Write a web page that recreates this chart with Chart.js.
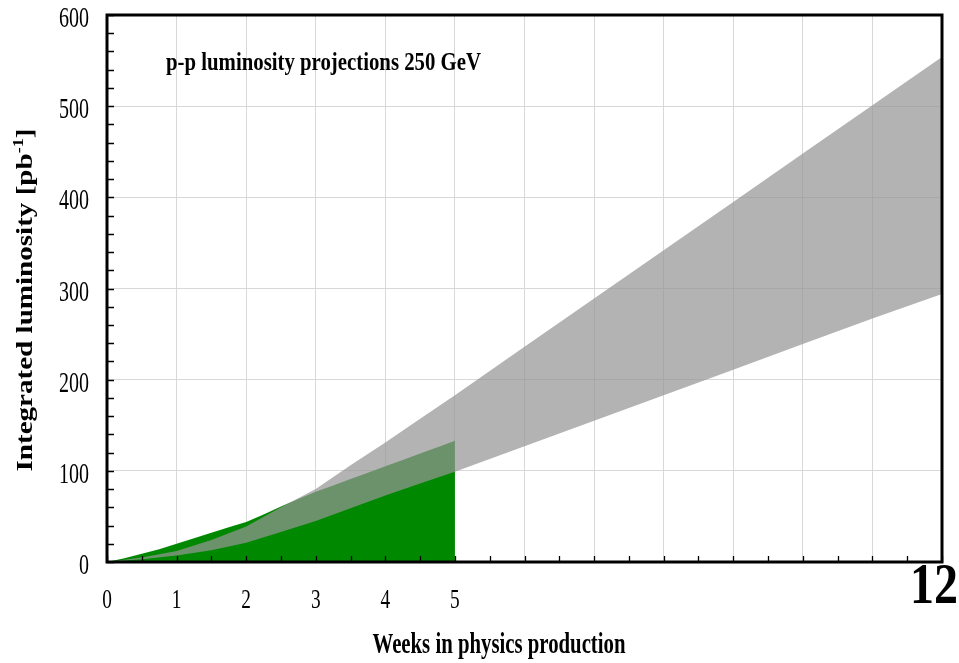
<!DOCTYPE html>
<html>
<head>
<meta charset="utf-8">
<title>p-p luminosity projections 250 GeV</title>
<script src="https://cdn.jsdelivr.net/npm/chart.js@4.4.1/dist/chart.umd.min.js"></script>
<style>
  html, body { margin: 0; padding: 0; background: #ffffff; }
  canvas { display: block; }
</style>
</head>
<body>
<canvas id="lumi" width="959" height="663"></canvas>
<script>
// Projection band (weeks, lower and upper expectation in pb^-1)
const bandWeeks = [0, 0.5, 1, 1.5, 2, 2.5, 3, 3.5, 4, 4.5, 5, 6, 7, 8, 9, 10, 11, 12];
const bandUpper = [0, 5, 12, 24, 39, 60, 80, 106, 131, 157, 183, 236, 289, 342, 395, 448, 501, 554];
const bandLower = [0, 3, 7, 13, 21, 33, 45, 59, 73, 86, 99, 127, 155, 183, 211, 239, 267, 294];

// Delivered integrated luminosity so far
const deliveredWeeks = [0, 0.25, 0.5, 0.75, 1, 1.25, 1.5, 1.75, 2, 2.25, 2.5, 2.75, 3, 3.25, 3.5, 3.75, 4, 4.25, 4.5, 4.75, 5];
const delivered = [0, 4, 9, 14, 20, 26, 32, 38, 44, 52, 61, 69, 77, 84, 91, 98, 105, 112, 119, 126, 133];

// Axis labels
const yTickLabels = [0, 100, 200, 300, 400, 500, 600];
const xTickLabels = [0, 1, 2, 3, 4, 5];
const xEndLabel = 12;
const titleText = 'p-p luminosity projections 250 GeV';
const xTitleText = 'Weeks in physics production';
const yTitleParts = ['Integrated luminosity [pb', '-1', ']'];

const SERIF = '"Liberation Serif", "Times New Roman", serif';

const toPoints = (xs, ys) => xs.map((x, i) => ({ x: x, y: ys[i] }));

// Draw text squeezed horizontally (sx) or fitted to a given width
function drawText(ctx, text, x, y, font, align, sx, width) {
  ctx.save();
  ctx.font = font;
  const w = ctx.measureText(text).width;
  const s = width ? width / w : sx;
  ctx.translate(x, y);
  ctx.scale(s, 1);
  ctx.textAlign = align;
  ctx.textBaseline = 'alphabetic';
  ctx.fillStyle = '#000000';
  ctx.fillText(text, 0, 0);
  ctx.restore();
}

const framePlugin = {
  id: 'frameAndLabels',
  afterDatasetsDraw(chart) {
    const ctx = chart.ctx;
    const a = chart.chartArea;
    const xs = chart.scales.x;
    const ys = chart.scales.y;
    ctx.save();
    ctx.strokeStyle = '#000000';
    ctx.lineWidth = 1.3;
    ctx.beginPath();
    // minor ticks on the left axis, every 20 pb^-1
    for (let v = ys.min; v <= ys.max; v += 20) {
      const py = Math.round(ys.getPixelForValue(v)) + 0.5;
      ctx.moveTo(a.left, py);
      ctx.lineTo(a.left + 7, py);
    }
    // minor ticks on the bottom axis, every half week
    for (let v = xs.min; v <= xs.max; v += 0.5) {
      const px = Math.round(xs.getPixelForValue(v)) + 0.5;
      ctx.moveTo(px, a.bottom);
      ctx.lineTo(px, a.bottom - 6);
    }
    ctx.stroke();
    // frame
    ctx.lineWidth = 3;
    ctx.strokeRect(a.left, a.top, a.right - a.left, a.bottom - a.top);
    ctx.restore();
  },
  afterDraw(chart) {
    const ctx = chart.ctx;
    const xs = chart.scales.x;
    const ys = chart.scales.y;

    // y tick labels
    yTickLabels.forEach(v => {
      drawText(ctx, String(v), 89, ys.getPixelForValue(v) + 12, '29px ' + SERIF, 'right', 0.69);
    });
    // x tick labels
    xTickLabels.forEach(v => {
      drawText(ctx, String(v), xs.getPixelForValue(v), 608, '28px ' + SERIF, 'center', 0.69);
    });
    // end-of-axis label
    drawText(ctx, String(xEndLabel), 958, 603, 'bold 56px ' + SERIF, 'right', null, 48);

    // in-plot title
    drawText(ctx, titleText, 166, 70, 'bold 25px ' + SERIF, 'left', null, 315);

    // x axis title
    drawText(ctx, xTitleText, 499, 653, 'bold 30px ' + SERIF, 'center', null, 253);

    // y axis title (rotated, with superscript)
    ctx.save();
    const mainFont = 'bold 24px ' + SERIF;
    const supFont = 'bold 15px ' + SERIF;
    ctx.font = mainFont;
    const w0 = ctx.measureText(yTitleParts[0]).width;
    const w2 = ctx.measureText(yTitleParts[2]).width;
    ctx.font = supFont;
    const w1 = ctx.measureText(yTitleParts[1]).width;
    const total = w0 + w1 + w2;
    const s = 343 / total;
    ctx.translate(32, 300);
    ctx.rotate(-Math.PI / 2);
    ctx.scale(s, 1);
    ctx.fillStyle = '#000000';
    ctx.textBaseline = 'alphabetic';
    ctx.textAlign = 'left';
    let cx = -total / 2;
    ctx.font = mainFont;
    ctx.fillText(yTitleParts[0], cx, 0);
    cx += w0;
    ctx.font = supFont;
    ctx.fillText(yTitleParts[1], cx, -9);
    cx += w1;
    ctx.font = mainFont;
    ctx.fillText(yTitleParts[2], cx, 0);
    ctx.restore();
  }
};

new Chart(document.getElementById('lumi'), {
  type: 'line',
  data: {
    datasets: [
      {
        label: 'upper',
        data: toPoints(bandWeeks, bandUpper),
        fill: '+1',
        backgroundColor: 'rgba(149,149,149,0.72)',
        borderColor: 'rgba(0,0,0,0)',
        borderWidth: 0,
        pointRadius: 0,
        tension: 0,
        order: 0
      },
      {
        label: 'lower',
        data: toPoints(bandWeeks, bandLower),
        fill: false,
        borderColor: 'rgba(0,0,0,0)',
        borderWidth: 0,
        pointRadius: 0,
        tension: 0,
        order: 1
      },
      {
        label: 'delivered',
        data: toPoints(deliveredWeeks, delivered),
        fill: 'origin',
        backgroundColor: '#008800',
        borderColor: 'rgba(0,0,0,0)',
        borderWidth: 0,
        pointRadius: 0,
        tension: 0,
        order: 2
      }
    ]
  },
  options: {
    responsive: false,
    animation: false,
    events: [],
    layout: { padding: { left: 107, top: 15, right: 17, bottom: 101 } },
    plugins: {
      legend: { display: false },
      tooltip: { enabled: false },
      title: { display: false }
    },
    scales: {
      x: {
        type: 'linear',
        min: 0,
        max: 12,
        ticks: { display: false, stepSize: 1 },
        grid: { color: '#d8d8d8', lineWidth: 1, drawTicks: false },
        border: { display: false }
      },
      y: {
        type: 'linear',
        min: 0,
        max: 600,
        ticks: { display: false, stepSize: 100 },
        grid: { color: '#d8d8d8', lineWidth: 1, drawTicks: false },
        border: { display: false }
      }
    }
  },
  plugins: [framePlugin]
});
</script>
</body>
</html>
